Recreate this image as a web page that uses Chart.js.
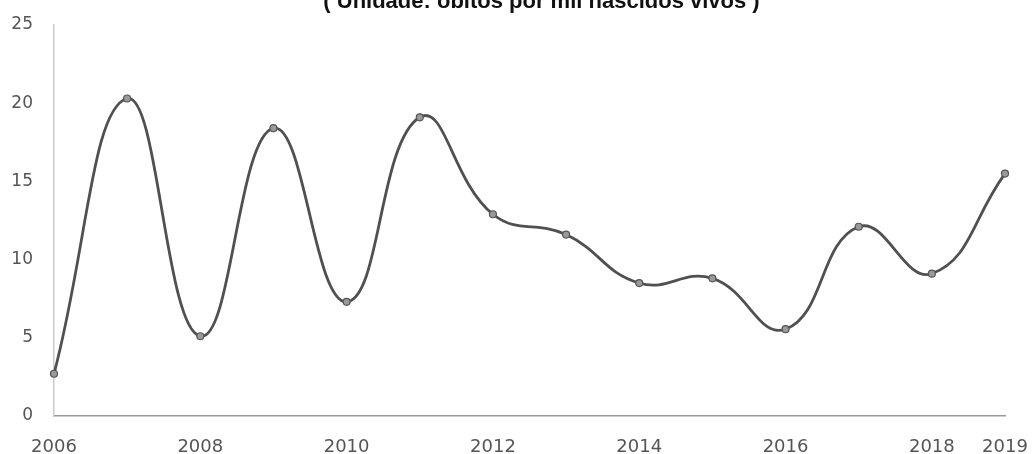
<!DOCTYPE html>
<html>
<head>
<meta charset="utf-8">
<script src="https://cdn.jsdelivr.net/npm/chart.js@4"></script>
<style>
  html, body { margin: 0; padding: 0; background: #fff; }
  #c { display: block; }
</style>
</head>
<body>
<canvas id="c" width="1033" height="454"></canvas>
<script>
const titleText = "( Unidade: óbitos por mil nascidos vivos )";
const years = ["2006","2007","2008","2009","2010","2011","2012","2013","2014","2015","2016","2017","2018","2019"];
const rates = [2.7, 20.3, 5.1, 18.4, 7.3, 19.1, 12.9, 11.6, 8.5, 8.8, 5.55, 12.1, 9.1, 15.5];
const shownYearLabels = ["2006","2008","2010","2012","2014","2016","2018","2019"];
const yTicks = [0, 5, 10, 15, 20, 25];

const clippedTitle = {
  id: 'clippedTitle',
  afterDraw(chart) {
    const ctx = chart.ctx, a = chart.chartArea;
    ctx.save();
    ctx.font = 'bold 22px "Liberation Sans", Arial, sans-serif';
    ctx.fillStyle = '#111';
    ctx.textAlign = 'center';
    ctx.textBaseline = 'alphabetic';
    ctx.fillText(titleText, (a.left + a.right) / 2 + 12, 8);
    ctx.restore();
  }
};

new Chart(document.getElementById('c'), {
  type: 'line',
  data: {
    labels: years,
    datasets: [{
      data: rates,
      borderColor: '#505050',
      borderWidth: 2.8,
      tension: 0.45,
      pointRadius: 3.5,
      pointBackgroundColor: '#999',
      pointBorderColor: '#555',
      pointBorderWidth: 1.2,
      fill: false
    }]
  },
  plugins: [clippedTitle],
  options: {
    responsive: false,
    animation: false,
    layout: { padding: { left: 0, right: 28, top: 25, bottom: 0 } },
    plugins: {
      legend: { display: false },
      tooltip: { enabled: false },
      title: { display: false }
    },
    scales: {
      x: {
        type: 'category',
        offset: false,
        afterFit: function(axis) { axis.height = 38; axis.paddingLeft = 0; axis.paddingRight = 0; },
        grid: { display: false, drawTicks: false },
        border: { display: true, color: '#999', width: 1.5 },
        ticks: {
          autoSkip: false,
          maxRotation: 0,
          padding: 21,
          color: '#555',
          font: { family: 'DejaVu Sans', size: 18 },
          callback: function(v, i) {
            const lab = years[i];
            return shownYearLabels.includes(lab) ? lab : '';
          }
        }
      },
      y: {
        min: 0,
        max: 25,
        afterBuildTicks: function(axis) { axis.ticks = yTicks.map(v => ({ value: v })); },
        afterFit: function(axis) { axis.width = 54; axis.paddingTop = 0; axis.paddingBottom = 0; },
        grid: { display: false, drawTicks: false },
        border: { display: true, color: '#ccc', width: 1.5 },
        ticks: {
          padding: 21,
          color: '#555',
          font: { family: 'DejaVu Sans', size: 17 }
        }
      }
    }
  }
});
</script>
</body>
</html>
